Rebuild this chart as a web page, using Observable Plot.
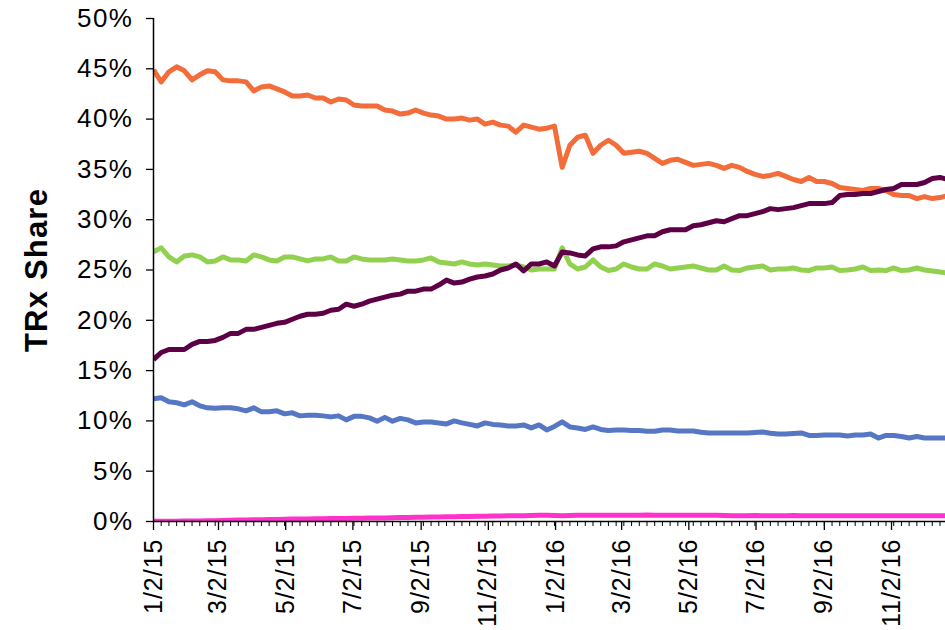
<!DOCTYPE html>
<html>
<head>
<meta charset="utf-8">
<script src="https://cdn.jsdelivr.net/npm/d3@7"></script>
<script src="https://cdn.jsdelivr.net/npm/@observablehq/plot@0.6"></script>
<style>
  html, body { margin: 0; padding: 0; background: #fff; }
  #chart svg { display: block; }
  #chart g[aria-label="y-axis tick label"] text { letter-spacing: 1.5px; }
  #chart g[aria-label="x-axis tick label"] text { letter-spacing: 1px; }
  #chart g[aria-label="text"] text { letter-spacing: 1.2px; }
</style>
</head>
<body>
<div id="chart"></div>
<script>
// ---- Data (weekly TRx share, %, weeks starting 1/2/15) ----
const startDate = "1/2/15";
const endDate = "12/21/16";
const seriesNames = ["Series A", "Series B", "Series C", "Series D", "Series E"];
const seriesColors = ["#F26D3A", "#5E0046", "#92D050", "#5677C3", "#FF33CC"];

const seriesA = [44.9,43.7,44.7,45.2,44.8,43.9,44.4,44.8,44.7,43.9,43.8,43.8,43.7,42.8,43.2,43.3,43.0,42.7,42.3,42.3,
  42.4,42.1,42.1,41.7,42.0,41.9,41.4,41.3,41.3,41.3,40.9,40.8,40.5,40.6,40.9,40.6,40.4,40.3,40.0,40.0,
  40.1,39.9,40.0,39.5,39.7,39.4,39.3,38.7,39.4,39.2,39.0,39.1,39.3,35.2,37.4,38.2,38.4,36.6,37.4,37.9,
  37.4,36.6,36.7,36.8,36.6,36.1,35.6,35.9,36.0,35.7,35.4,35.5,35.6,35.4,35.1,35.4,35.2,34.8,34.5,34.3,
  34.4,34.6,34.3,34.0,33.8,34.2,33.8,33.8,33.6,33.2,33.1,33.0,32.9,33.1,33.1,32.9,32.5,32.4,32.4,32.1,
  32.3,32.1,32.2,32.4];
const seriesB = [16.1,16.8,17.1,17.1,17.1,17.6,17.9,17.9,18.0,18.3,18.7,18.7,19.1,19.1,19.3,19.5,19.7,19.8,20.1,20.4,
  20.6,20.6,20.7,21.0,21.1,21.6,21.4,21.6,21.9,22.1,22.3,22.5,22.6,22.9,22.9,23.1,23.1,23.5,24.0,23.7,
  23.8,24.1,24.3,24.4,24.6,25.0,25.2,25.6,24.9,25.6,25.6,25.8,25.4,26.8,26.7,26.5,26.4,27.1,27.3,27.3,
  27.4,27.8,28.0,28.2,28.4,28.4,28.8,29.0,29.0,29.0,29.4,29.5,29.7,29.9,29.8,30.1,30.4,30.4,30.6,30.8,
  31.1,31.0,31.1,31.2,31.4,31.6,31.6,31.6,31.7,32.4,32.5,32.5,32.6,32.6,32.8,33.0,33.1,33.5,33.5,33.5,
  33.7,34.1,34.2,34.0];
const seriesC = [26.8,27.2,26.3,25.8,26.4,26.5,26.3,25.8,25.9,26.3,26.0,26.0,25.9,26.5,26.3,26.0,25.9,26.3,26.3,26.1,
  25.9,26.1,26.1,26.3,25.9,25.9,26.3,26.1,26.0,26.0,26.0,26.1,26.0,25.9,25.9,26.0,26.2,25.8,25.7,25.6,
  25.8,25.6,25.5,25.6,25.5,25.4,25.4,25.5,25.3,25.0,25.1,25.1,25.1,27.2,25.6,25.1,25.3,26.0,25.3,24.95,
  25.1,25.6,25.3,25.1,25.1,25.6,25.4,25.1,25.2,25.3,25.4,25.2,25.0,25.0,25.4,25.0,24.95,25.2,25.3,25.4,
  25.0,25.1,25.1,25.2,25.0,24.95,25.2,25.2,25.3,24.95,25.0,25.1,25.3,24.95,25.0,24.95,25.2,24.95,25.0,25.2,
  25.0,24.9,24.8,24.7];
const seriesD = [12.2,12.3,11.9,11.8,11.6,11.9,11.5,11.3,11.25,11.3,11.3,11.2,11.0,11.3,10.9,10.9,11.0,10.7,10.8,10.5,
  10.55,10.55,10.5,10.4,10.5,10.1,10.45,10.45,10.3,9.97,10.35,9.97,10.25,10.1,9.8,9.9,9.9,9.8,9.7,10.0,
  9.8,9.65,9.5,9.8,9.65,9.6,9.5,9.5,9.6,9.3,9.6,9.1,9.45,9.9,9.4,9.3,9.15,9.4,9.15,9.05,
  9.1,9.1,9.05,9.05,8.98,8.98,9.1,9.1,9.0,9.0,9.0,8.88,8.8,8.8,8.8,8.8,8.8,8.8,8.85,8.9,
  8.78,8.7,8.7,8.75,8.8,8.55,8.55,8.6,8.6,8.6,8.5,8.6,8.6,8.7,8.3,8.55,8.55,8.45,8.3,8.45,
  8.3,8.3,8.3,8.3];
const seriesE = [0.02,0.02,0.03,0.03,0.04,0.05,0.06,0.07,0.08,0.1,0.12,0.14,0.15,0.17,0.18,0.2,0.21,0.22,0.24,0.25,
  0.26,0.27,0.28,0.29,0.3,0.31,0.32,0.33,0.34,0.35,0.36,0.38,0.39,0.4,0.42,0.43,0.44,0.45,0.47,0.48,
  0.49,0.5,0.51,0.52,0.54,0.55,0.56,0.57,0.58,0.6,0.62,0.62,0.6,0.58,0.6,0.62,0.63,0.62,0.61,0.62,
  0.63,0.62,0.62,0.63,0.64,0.63,0.62,0.63,0.62,0.61,0.62,0.62,0.63,0.62,0.6,0.58,0.57,0.58,0.59,0.58,
  0.57,0.58,0.58,0.59,0.58,0.57,0.57,0.58,0.57,0.57,0.58,0.58,0.57,0.57,0.58,0.58,0.57,0.56,0.57,0.58,
  0.57,0.57,0.58,0.58];

const yTicks = [0, 5, 10, 15, 20, 25, 30, 35, 40, 45, 50];
const xTickLabels = ["1/2/15","3/2/15","5/2/15","7/2/15","9/2/15","11/2/15","1/2/16","3/2/16","5/2/16","7/2/16","9/2/16","11/2/16"];
const yTitle = "TRx Share";

// ---- Build table ----
const parse = d3.utcParse("%m/%d/%y");
const t0 = parse(startDate);
const weekDates = seriesA.map((_, i) => d3.utcDay.offset(t0, 7 * i));
const allSeries = [seriesA, seriesB, seriesC, seriesD, seriesE];
// draw order: E, D, C, A, B on top
const drawOrder = [4, 3, 2, 0, 1];
const rows = [];
for (const s of drawOrder) {
  allSeries[s].forEach((v, i) => rows.push({date: weekDates[i], value: v, series: seriesNames[s]}));
}
const majorDates = xTickLabels.map(parse);
const labelOf = new Map(majorDates.map((d, i) => [+d, xTickLabels[i]]));

const font = "'Liberation Sans', Arial, Helvetica, sans-serif";

const chart = Plot.plot({
  width: 945,
  height: 630,
  marginLeft: 153,
  marginRight: 0,
  marginTop: 18,
  marginBottom: 109,
  style: {fontFamily: font, background: "#fff", color: "#000"},
  x: {type: "utc", domain: [t0, parse(endDate)]},
  y: {domain: [0, 50]},
  color: {type: "ordinal", domain: seriesNames, range: seriesColors},
  marks: [
    Plot.lineY(rows, {
      x: "date", y: "value", z: "series", stroke: "series",
      strokeWidth: 5, strokeLinejoin: "round", strokeLinecap: "butt", clip: true,
      sort: null
    }),
    Plot.axisY({
      ticks: yTicks, tickFormat: d => d + "%", tickSize: 7, tickPadding: 13,
      fontSize: 26, label: null, stroke: "#000", strokeWidth: 1.3
    }),
    Plot.axisX({
      ticks: weekDates, tickFormat: () => "", tickSize: 5, tickPadding: 0, label: null,
      stroke: "#000", strokeWidth: 1
    }),
    Plot.axisX({
      ticks: majorDates, tickFormat: d => labelOf.get(+d), tickSize: 9, tickPadding: 8,
      tickRotate: -90, fontSize: 25, label: null, stroke: "#000", strokeWidth: 1.3
    }),
    Plot.ruleX([t0], {stroke: "#000", strokeWidth: 1.5}),
    Plot.ruleY([0], {stroke: "#000", strokeWidth: 1.5}),
    Plot.text([yTitle], {
      frameAnchor: "left", dx: -116, rotate: -90, fontSize: 31, fontWeight: "bold",
      fill: "#000", textAnchor: "middle"
    })
  ]
});
document.getElementById("chart").appendChild(chart);
</script>
</body>
</html>
